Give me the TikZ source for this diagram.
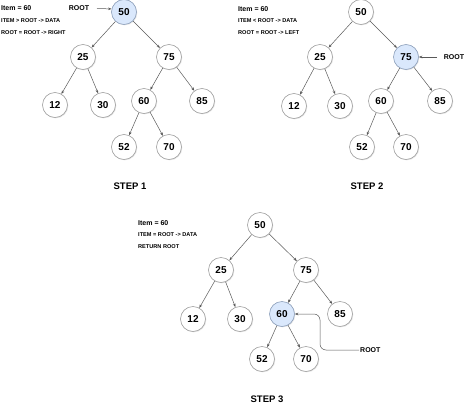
\documentclass[tikz,border=0pt]{standalone}
\usepackage{fontspec}
\setmainfont{Liberation Sans}
\usetikzlibrary{arrows.meta}
\usetikzlibrary{shadows}

\definecolor{ljusbla}{HTML}{DAE8FC}
\definecolor{blakant}{HTML}{8C9FBA}

\begin{document}
\begin{tikzpicture}[x=1pt, y=-1pt,
		knut/.style={circle, draw=gray!75, fill=white, line width=0.6pt, minimum size=25pt, inner sep=0pt, font=\fontsize{10}{12}\selectfont\bfseries, drop shadow={shadow xshift=0.8pt, shadow yshift=-0.8pt, opacity=0.2}},
		aktiv/.style={knut, fill=ljusbla, draw=blakant},
		pil/.style={draw=black!65, line width=0.5pt, -{Stealth[length=3.5pt, width=2.6pt]}},
		item/.style={anchor=west, inner sep=0pt, font=\fontsize{7}{8}\selectfont\bfseries},
		info/.style={anchor=west, inner sep=0pt, font=\fontsize{5.6}{7}\selectfont\bfseries},
		rubrik/.style={inner sep=0pt, font=\fontsize{9.5}{11}\selectfont\bfseries}]
		\useasboundingbox (0, 0) rectangle (474, 407);
		
		% Steg 1
		\node [aktiv] (a50) at (124, 12) {50};
		\node [knut] (a25) at (83, 57) {25};
		\node [knut] (a75) at (169, 57) {75};
		\node [knut] (a12) at (55, 105) {12};
		\node [knut] (a30) at (103, 105) {30};
		\node [knut] (a60) at (144, 101) {60};
		\node [knut] (a85) at (202, 101) {85};
		\node [knut] (a52) at (124, 147) {52};
		\node [knut] (a70) at (169, 147) {70};
		\path [pil] (a50) edge (a25) edge (a75) (a25) edge (a12) edge (a30) (a75) edge (a60) edge (a85) (a60) edge (a52) edge (a70);
		
		\node [item] (aitem) at (1, 8) {Item = 60};
		\node [info] (avillkor) at (1, 21) {ITEM > ROOT -> DATA};
		\node [info] (asteg) at (1, 33) {ROOT = ROOT -> RIGHT};
		\node [item, anchor=center] (arot) at (79, 8) {ROOT};
		\coordinate (astart) at (97, 8.5);
		\draw [pil] (astart) -- (a50.166); % Pekaren
		\node [rubrik] (asteg1) at (130, 186) {STEP 1};
		
		% Steg 2
		\node [knut] (b50) at (361, 12) {50};
		\node [knut] (b25) at (320, 57) {25};
		\node [aktiv] (b75) at (406, 57) {75};
		\node [knut] (b12) at (294, 106) {12};
		\node [knut] (b30) at (340, 106) {30};
		\node [knut] (b60) at (381, 101) {60};
		\node [knut] (b85) at (440, 101) {85};
		\node [knut] (b52) at (362, 147) {52};
		\node [knut] (b70) at (406, 147) {70};
		\path [pil] (b50) edge (b25) edge (b75) (b25) edge (b12) edge (b30) (b75) edge (b60) edge (b85) (b60) edge (b52) edge (b70);
		
		\node [item] (bitem) at (238, 9) {Item = 60};
		\node [info] (bvillkor) at (238, 21) {ITEM < ROOT -> DATA};
		\node [info] (bsteg) at (238, 33) {ROOT = ROOT -> LEFT};
		\node [item, anchor=center] (brot) at (454, 57) {ROOT};
		\coordinate (bstart) at (437, 57);
		\draw [pil] (bstart) -- (b75.east); % Pekaren
		\node [rubrik] (bsteg2) at (367, 186) {STEP 2};
		
		% Steg 3
		\node [knut] (c50) at (260, 225) {50};
		\node [knut] (c25) at (221, 270) {25};
		\node [knut] (c75) at (306, 270) {75};
		\node [knut] (c12) at (193, 319) {12};
		\node [knut] (c30) at (240, 319) {30};
		\node [aktiv] (c60) at (282, 314) {60};
		\node [knut] (c85) at (340, 314) {85};
		\node [knut] (c52) at (262, 359) {52};
		\node [knut] (c70) at (306, 359) {70};
		\path [pil] (c50) edge (c25) edge (c75) (c25) edge (c12) edge (c30) (c75) edge (c60) edge (c85) (c60) edge (c52) edge (c70);
		
		\node [item] (citem) at (138, 223) {Item = 60};
		\node [info] (cvillkor) at (138, 235) {ITEM = ROOT -> DATA};
		\node [info] (csteg) at (138, 247) {RETURN ROOT};
		\node [item, anchor=west] (crot) at (360, 350) {ROOT};
		\coordinate (cknack) at (320, 314);
		\draw [pil, rounded corners=6pt] ([xshift=-1pt]crot.west) -| (cknack) -- (c60.east); % Pekaren med knäck
		\node [rubrik] (csteg3) at (267, 399) {STEP 3};
	\end{tikzpicture}
\end{document}
